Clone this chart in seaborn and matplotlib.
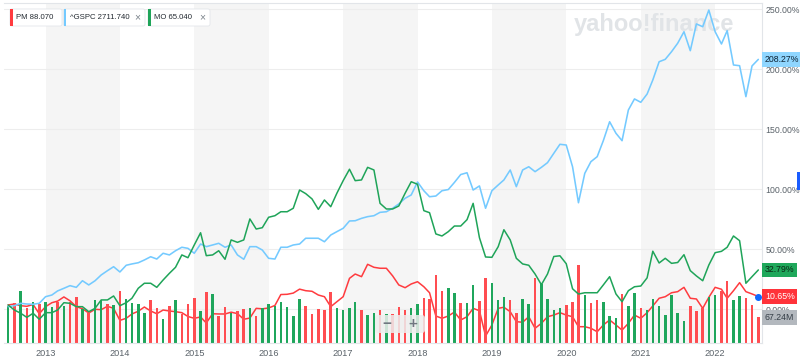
import numpy as np
import pandas as pd
import matplotlib
matplotlib.use("Agg")
import matplotlib.pyplot as plt
import matplotlib.dates as mdates
import seaborn as sns
from matplotlib.patches import FancyBboxPatch, Rectangle
from matplotlib.transforms import IdentityTransform, blended_transform_factory

# -----------------------------------------------------
# data - monthly, Jul 2012 .. Aug 2022
# -----------------------------------------------------
dates = pd.date_range("2012-07-01", periods=122, freq="MS")

# % change, ^GSPC
gspc_pct = [2.2, 3.0, 5.0, 4.4, 4.2, 5.0, 10.5, 11.9, 15.3, 17.5,
            19.7, 18.3, 23.8, 20.3, 23.8, 28.6, 32.2, 35.5, 31.1, 36.7,
            37.8, 38.8, 41.1, 43.8, 41.9, 46.7, 45.3, 48.8, 51.7, 50.8,
            46.7, 54.4, 52.2, 53.6, 55.0, 51.7, 53.6, 45.3, 41.7, 52.2,
            52.2, 49.4, 42.5, 41.9, 51.7, 51.7, 53.6, 54.4, 59.2, 59.2,
            59.2, 56.3, 61.9, 64.7, 67.5, 73.6, 73.8, 75.8, 77.2, 78.0,
            80.8, 81.3, 84.2, 87.8, 92.5, 95.3, 106.1, 98.8, 93.8, 94.4,
            98.8, 99.8, 105.7, 112.3, 113.8, 99.4, 102.8, 84.2, 98.8, 103.6,
            107.8, 116.1, 102.2, 116.1, 118.8, 114.7, 118.3, 122.2, 130.0, 137.5,
            136.9, 118.8, 88.8, 113.3, 123.0, 127.2, 140.5, 156.3, 146.7, 140.5,
            166.1, 175.3, 172.5, 179.4, 191.1, 206.3, 208.3, 214.7, 221.7, 231.3,
            215.5, 237.8, 235.5, 249.4, 231.3, 221.1, 232.2, 203.6, 203.0, 177.2,
            202.8, 208.27]

# % change, MO
mo_pct = [3.6, -0.6, -3.3, -6.7, -3.3, -8.3, -2.8, -2.8, -0.6, 5.5,
          5.0, 2.2, 2.2, -2.0, 0.8, 7.8, 7.8, 11.1, 3.0, 5.5,
          9.2, 17.5, 21.7, 21.7, 18.3, 24.4, 30.0, 35.0, 45.3, 43.0,
          53.6, 63.8, 44.7, 45.3, 48.8, 41.7, 57.8, 55.8, 57.8, 75.3,
          66.9, 68.0, 76.7, 78.0, 81.3, 81.3, 84.2, 99.4, 96.4, 92.0,
          83.3, 91.1, 85.5, 96.7, 107.2, 116.7, 107.2, 107.8, 118.3, 116.1,
          88.3, 83.6, 83.6, 86.1, 96.7, 106.3, 104.2, 82.2, 80.5, 62.8,
          61.1, 64.7, 69.4, 69.4, 74.7, 88.3, 59.6, 43.6, 43.3, 52.2,
          66.3, 57.8, 42.5, 37.8, 36.7, 29.4, 20.5, 29.4, 44.0, 44.6,
          38.0, 17.1, 12.7, 13.8, 13.8, 13.8, 20.3, 27.2, 12.8, 6.3,
          15.5, 18.8, 19.4, 26.2, 48.4, 38.6, 42.5, 38.3, 39.0, 45.5,
          32.2, 27.8, 23.8, 36.9, 47.2, 48.3, 51.7, 61.1, 57.2, 21.7,
          27.2, 32.79]

# % change, PM
pm_pct = [3.6, 4.4, 3.0, 2.5, 4.0, -3.7, 2.2, 5.5, 6.8, 10.3,
          7.1, 2.2, 0.5, -3.1, 0.0, -0.3, 2.5, 0.8, -9.2, -7.5,
          -3.9, -1.6, 1.9, -1.4, -3.7, -0.6, -1.4, -2.0, -2.8, -6.0,
          -7.5, -6.4, -11.4, -3.7, -3.9, -3.9, -2.4, -3.6, -8.3, -7.3,
          0.8, 0.4, 1.1, 3.2, 12.3, 12.5, 13.5, 16.8, 15.5, 15.0,
          11.9, 10.5, 2.2, 6.3, 10.5, 25.8, 29.4, 27.2, 37.5, 35.0,
          34.2, 34.2, 27.8, 20.3, 18.0, 21.1, 23.0, 18.8, 13.8, -5.6,
          -7.5, -5.6, -2.3, -8.9, -6.2, 0.8, -1.2, -22.3, -13.1, 0.8,
          1.7, -2.0, -10.3, -10.8, -6.2, -15.8, -11.7, -6.2, -4.8, -2.8,
          -4.8, -6.2, -14.5, -14.5, -15.8, -18.7, -13.1, -8.9, -13.1, -17.3,
          -11.7, -4.8, -7.5, -2.8, 2.8, 9.2, 10.5, 13.8, 14.7, 18.3,
          9.2, 8.6, 0.8, 10.0, 18.3, 16.7, 9.2, 15.5, 22.2, 14.7,
          12.8, 10.65]

# PM monthly volume, millions
pm_volume = [96, 105, 136, 92, 109, 103, 107, 94, 107, 98,
             109, 121, 90, 83, 114, 112, 103, 101, 138, 116,
             105, 103, 80, 114, 92, 63, 98, 114, 77, 103,
             118, 85, 133, 130, 70, 95, 80, 83, 89, 92,
             72, 92, 103, 96, 107, 95, 72, 116, 98, 77,
             89, 88, 133, 92, 88, 92, 108, 88, 73, 79,
             88, 77, 77, 94, 86, 92, 103, 118, 116, 180,
             136, 145, 132, 106, 105, 153, 110, 171, 158, 112,
             120, 114, 80, 117, 103, 172, 156, 116, 88, 93,
             101, 107, 204, 127, 105, 113, 109, 70, 67, 130,
             96, 132, 92, 88, 116, 98, 74, 127, 79, 59,
             98, 83, 92, 120, 125, 138, 164, 112, 124, 118,
             101, 67.24]

# 1 = green (up) bar, 0 = red (down) bar
volume_up = [1, 0, 1, 0, 1, 0, 1, 1, 0, 1,
             0, 0, 1, 0, 1, 1, 0, 1, 0, 1,
             1, 1, 1, 0, 0, 1, 0, 1, 0, 0,
             0, 1, 0, 1, 0, 0, 1, 0, 0, 1,
             0, 1, 1, 1, 1, 1, 1, 1, 0, 0,
             0, 0, 0, 1, 1, 1, 1, 0, 1, 1,
             0, 1, 0, 0, 0, 1, 1, 0, 0, 0,
             0, 1, 1, 0, 1, 1, 0, 0, 1, 1,
             1, 0, 0, 1, 1, 0, 1, 1, 1, 1,
             0, 0, 0, 1, 0, 0, 1, 1, 1, 0,
             1, 1, 0, 1, 1, 1, 1, 1, 1, 1,
             0, 0, 0, 1, 1, 0, 0, 1, 1, 0,
             0, 0]

pct_ticks = [0, 50, 100, 150, 200, 250]
shaded_years = [2013, 2015, 2017, 2019, 2021]

# -----------------------------------------------------
# style
# -----------------------------------------------------
sns.set_style("white")
plt.rcParams["font.family"] = ["Liberation Sans", "DejaVu Sans"]

RED = "#ff3b3f"
RED_BAR = "#ff4d51"
GREEN = "#1fa459"
GREEN_BAR = "#1fa65c"
BLUE = "#74caff"
GREY_TXT = "#5b636a"

W, H = 800, 362


def fx(px):
    return px / W


def fy(py):
    return 1 - py / H


fig = plt.figure(figsize=(8, 3.62), dpi=100)
fig.patch.set_facecolor("white")

ax = fig.add_axes([4 / W, 19 / H, 758 / W, 340 / H])
ax2 = ax.twinx()   # volume bars
ax3 = ax.twinx()   # top lines + labels
ax.set_zorder(1)
ax2.set_zorder(2)
ax3.set_zorder(3)
ax2.patch.set_visible(False)
ax3.patch.set_visible(False)

x = mdates.date2num(dates)
x_left = mdates.date2num(pd.Timestamp("2012-06-11"))
x_right = mdates.date2num(pd.Timestamp("2022-08-19"))

ylo, yhi = (309.3 - 343) / 1.2, (309.3 - 3) / 1.2

# alternating year bands
for yr in shaded_years:
    ax.axvspan(mdates.date2num(pd.Timestamp(f"{yr}-01-01")),
               mdates.date2num(pd.Timestamp(f"{yr + 1}-01-01")),
               color="#f5f5f5", lw=0, zorder=0)

ax.set_yticks(pct_ticks)
ax.grid(axis="y", color="#ededed", lw=0.8)
ax.set_axisbelow(True)

# PM line sits under the volume bars
sns.lineplot(x=x, y=pm_pct, ax=ax, color=RED, linewidth=1.1, zorder=3)

bar_colors = [GREEN_BAR if u else RED_BAR for u in volume_up]
ax2.bar(x, pm_volume, width=12.5, color=bar_colors, lw=0)
ax2.set_ylim(0, 894)

sns.lineplot(x=x, y=gspc_pct, ax=ax3, color=BLUE, linewidth=1.15)
sns.lineplot(x=x, y=mo_pct, ax=ax3, color=GREEN, linewidth=1.1)
ax3.plot(x[-1], pm_pct[-1], "o", color="#0f69ff", ms=4, clip_on=False, zorder=9)

for a in (ax, ax2, ax3):
    a.set_xlim(x_left, x_right)
    a.set_xlabel("")
    a.set_ylabel("")
for a in (ax, ax3):
    a.set_ylim(ylo, yhi)

# axes cosmetics
ax.xaxis.set_major_locator(mdates.YearLocator())
ax.xaxis.set_major_formatter(mdates.DateFormatter("%Y"))
ax.tick_params(axis="x", length=0, pad=4.5, labelsize=6.6, labelcolor=GREY_TXT)
ax.tick_params(axis="y", left=False, labelleft=False)
ax2.set_yticks([])
ax3.set_yticks(pct_ticks)
ax3.set_yticklabels([f"{v:.2f}%" for v in pct_ticks])
ax3.tick_params(axis="y", length=0, pad=2.4, labelsize=6.3, labelcolor=GREY_TXT)

for a in (ax, ax2):
    for s in a.spines.values():
        s.set_visible(False)
ax3.spines["left"].set_visible(False)
for s in ("right", "top", "bottom"):
    ax3.spines[s].set_color("#e2e5e9")
    ax3.spines[s].set_linewidth(0.8)

# last-value tags on the right
tr = blended_transform_factory(ax3.transAxes, ax3.transData)
tr_vol = blended_transform_factory(ax3.transAxes, ax2.transData)
xt = 1 + 2.8 / 758
tags = [
    (tr, gspc_pct[-1], f"{gspc_pct[-1]:.2f}%", "#8fd6ff", "#0d2233"),
    (tr, mo_pct[-1], f"{mo_pct[-1]:.2f}%", "#1fa85b", "#0b2414"),
    (tr, pm_pct[-1], f"{pm_pct[-1]:.2f}%", "#ff333a", "white"),
    (tr_vol, pm_volume[-1], f"{pm_volume[-1]:.2f}M", "#b3b8be", "#353e47"),
]
for t, yv, label, fc, tc in tags:
    ax3.text(xt, yv, label, transform=t, ha="left", va="center",
             fontsize=6.3, color=tc, clip_on=False, zorder=10,
             bbox=dict(boxstyle="square,pad=0.3", fc=fc, ec="none"))

# watermark
fig.text(fx(574), fy(24), "yahoo!finance", fontsize=17, fontweight="bold",
         color="#e1e4e7", ha="left", va="center", zorder=1.5)

# legend chips
px = IdentityTransform()
chips = [
    (10, 62, RED, "PM 88.070", False),
    (63.5, 145, BLUE, "^GSPC 2711.740", True),
    (148, 210, GREEN, "MO 65.040", True),
]
for x0, x1, col, label, closable in chips:
    fig.add_artist(FancyBboxPatch((x0, H - 26), x1 - x0, 17,
                                  boxstyle="round,pad=0,rounding_size=2",
                                  transform=px, fc="white", ec="#e3e6ea",
                                  lw=0.6, zorder=20))
    fig.add_artist(Rectangle((x0, H - 26), 2.6, 17, transform=px,
                             fc=col, ec="none", zorder=21))
    fig.text(fx(x0 + 6.5), fy(17.5), label, fontsize=5.6, color="#232a31",
             ha="left", va="center", zorder=22)
    if closable:
        fig.text(fx(x1 - 7.5), fy(17.5), "\u00d7", fontsize=7.5, color="#7d858d",
                 ha="center", va="center", zorder=22)

# zoom buttons overlay
fig.add_artist(FancyBboxPatch((375, H - 333), 50, 18,
                              boxstyle="round,pad=0,rounding_size=3",
                              transform=px, fc="#eeeeee", ec="none",
                              alpha=0.85, zorder=10))
fig.text(fx(387), fy(324), "\u2212", fontsize=11, fontweight="bold",
         color="#6f7780", ha="center", va="center", zorder=11)
fig.text(fx(413), fy(324), "+", fontsize=11, fontweight="bold",
         color="#6f7780", ha="center", va="center", zorder=11)

# little blue tab at the right edge
fig.add_artist(Rectangle((797, H - 190), 3, 18, transform=px,
                         fc="#1a5cff", ec="none", zorder=20))

fig.savefig("out.png", dpi=100, facecolor="white")
